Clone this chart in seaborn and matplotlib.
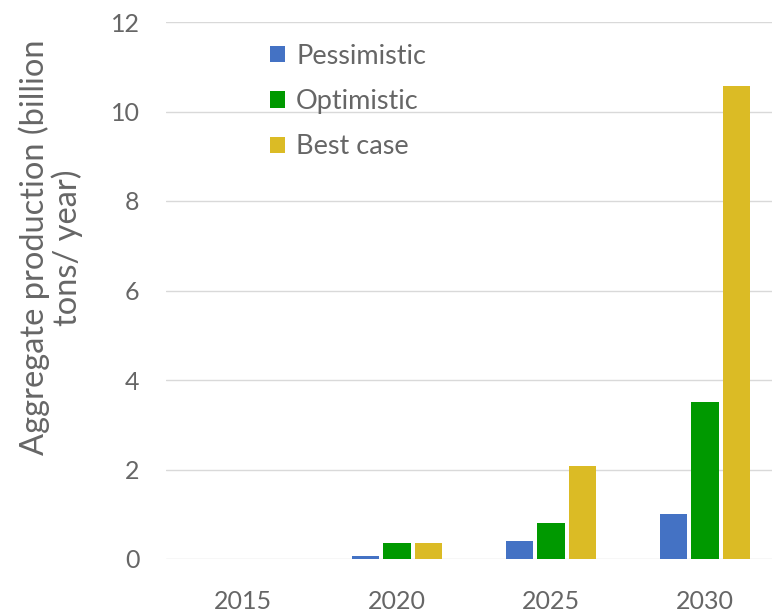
import matplotlib
matplotlib.use("Agg")
import matplotlib.pyplot as plt
import seaborn as sns
import pandas as pd

years = ["2015", "2020", "2025", "2030"]
scenarios = ["Pessimistic", "Optimistic", "Best case"]
pessimistic = [0.0, 0.07, 0.41, 1.0]
optimistic = [0.0, 0.36, 0.81, 3.5]
best_case = [0.0, 0.36, 2.07, 10.57]
colors = ["#4472C4", "#009900", "#DBBB25"]

rows = []
for name, vals in zip(scenarios, [pessimistic, optimistic, best_case]):
    for y, v in zip(years, vals):
        rows.append({"Year": y, "Scenario": name, "Value": v})
df = pd.DataFrame(rows)

sns.set_style("white")
plt.rcParams["font.family"] = ["Lato", "DejaVu Sans"]
text_color = "#666666"

fig = plt.figure(figsize=(7.72, 6.13), dpi=100)
ax = fig.add_axes([166 / 772, 1 - 559 / 613, 616 / 772, (559 - 22) / 613])

sns.barplot(data=df, x="Year", y="Value", hue="Scenario", order=years,
            hue_order=scenarios, palette=colors, width=0.62, gap=0.15,
            ax=ax, saturation=1, edgecolor="none")

ax.set_ylim(0, 12)
ax.set_xlim(-0.5, 3.5)
ax.set_yticks(range(0, 13, 2))
ax.grid(axis="y", color="#d9d9d9", linewidth=1)
ax.set_axisbelow(True)
for s in ax.spines.values():
    s.set_visible(False)
ax.tick_params(axis="both", length=0, labelsize=18, colors=text_color)
ax.tick_params(axis="y", pad=19)
ax.tick_params(axis="x", pad=22)
ax.set_xlabel("")
ax.set_ylabel("Aggregate production (billion\ntons/ year)", fontsize=23.5,
              color=text_color, linespacing=1.05)
ax.yaxis.set_label_coords(-0.135, 0.58)

leg = ax.legend(loc="upper left", bbox_to_anchor=(0.13, 1.005), frameon=False,
                fontsize=19.5, handlelength=0.55, handleheight=0.55,
                handletextpad=0.4, labelspacing=0.75)
for t in leg.get_texts():
    t.set_color(text_color)

fig.savefig("out.png", dpi=100)
